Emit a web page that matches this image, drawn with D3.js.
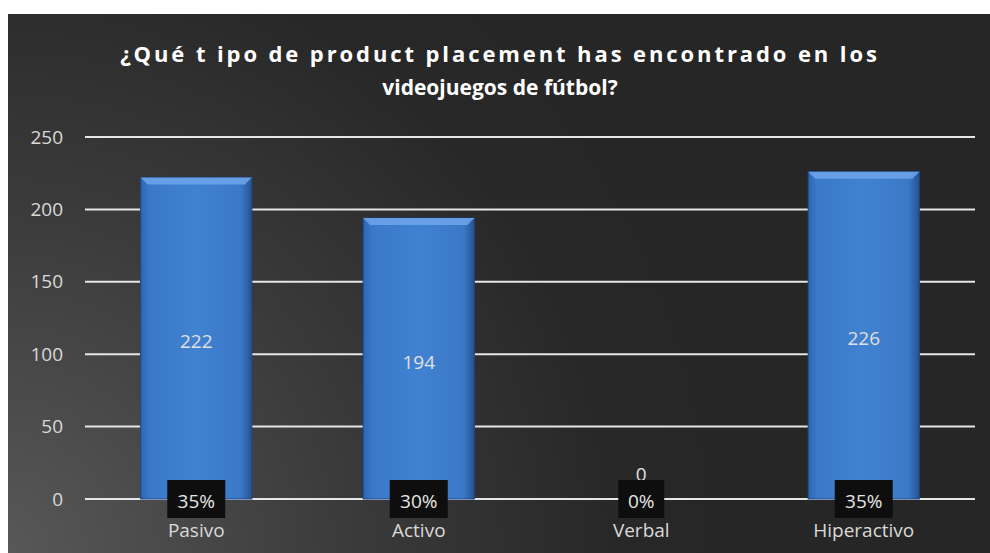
<!DOCTYPE html>
<html>
<head>
<meta charset="utf-8">
<script src="https://cdn.jsdelivr.net/npm/d3@7"></script>
<style>
  html, body { margin: 0; padding: 0; background: #ffffff; }
  svg { display: block; }
</style>
</head>
<body>
<svg id="chart" width="990" height="553"></svg>
<script>
// Survey data: type of product placement seen in football video games
const categories = ["Pasivo", "Activo", "Verbal", "Hiperactivo"];
const counts = [222, 194, 0, 226];
const shares = ["35%", "30%", "0%", "35%"];
const yTicks = [0, 50, 100, 150, 200, 250];
const titleLines = ["¿Qué t ipo de product placement has encontrado en  los", "videojuegos de fútbol?"];

const svg = d3.select("#chart");
const W = 990, H = 553;
const panel = { x: 8, y: 14 };
const plot = { left: 85, right: 975, top: 137, bottom: 499 };

const defs = svg.append("defs");

// Dark background, lighter toward the lower left
const bg = defs.append("radialGradient").attr("id", "bgGrad")
  .attr("gradientUnits", "userSpaceOnUse")
  .attr("cx", 0).attr("cy", 553).attr("r", 760);
bg.append("stop").attr("offset", "0%").attr("stop-color", "#585858");
bg.append("stop").attr("offset", "45%").attr("stop-color", "#3b3b3b");
bg.append("stop").attr("offset", "80%").attr("stop-color", "#282828");
bg.append("stop").attr("offset", "100%").attr("stop-color", "#262626");

// Bar body gradient (left to right)
const barGrad = defs.append("linearGradient").attr("id", "barGrad")
  .attr("x1", "0%").attr("x2", "100%").attr("y1", "0%").attr("y2", "0%");
[["0%", "#2c66b6"], ["8%", "#3a79c8"], ["50%", "#4081d1"], ["90%", "#3b79c8"], ["100%", "#24528f"]]
  .forEach(([o, c]) => barGrad.append("stop").attr("offset", o).attr("stop-color", c));

svg.append("rect")
  .attr("x", panel.x).attr("y", panel.y)
  .attr("width", W - panel.x).attr("height", H - panel.y)
  .attr("fill", "url(#bgGrad)");

const x = d3.scaleBand().domain(categories)
  .range([plot.left, plot.right]).paddingInner(0.5).paddingOuter(0.25);
const y = d3.scaleLinear().domain([0, 250]).range([plot.bottom, plot.top]);

const labelFont = "'Open Sans', 'Noto Sans', sans-serif";
const labelSize = "19px";

// Horizontal gridlines
svg.append("g").selectAll("line").data(yTicks).join("line")
  .attr("x1", plot.left).attr("x2", plot.right)
  .attr("y1", d => y(d)).attr("y2", d => y(d))
  .attr("stroke", "#e6e6e6").attr("stroke-width", 2);

// Y axis labels
const yAxis = d3.axisLeft(y).tickValues(yTicks).tickSize(0).tickPadding(0);
const gy = svg.append("g").attr("transform", `translate(${plot.left - 22},0)`).call(yAxis);
gy.select(".domain").remove();
gy.selectAll("text")
  .attr("fill", "#d9d9d9").style("font-family", labelFont).style("font-size", labelSize);

// Title
svg.append("g").selectAll("text").data(titleLines).join("text")
  .attr("x", 500).attr("y", (d, i) => 62 + i * 33)
  .attr("text-anchor", "middle")
  .attr("fill", "#ffffff")
  .style("font-family", "'Open Sans', 'Liberation Sans', sans-serif")
  .style("font-weight", "bold")
  .style("font-size", (d, i) => i === 0 ? "22px" : "21px")
  .style("letter-spacing", (d, i) => i === 0 ? "2.9px" : "0px")
  .text(d => d);

// Bars
const data = categories.map((c, i) => ({ cat: c, value: counts[i], share: shares[i] }));
const bars = svg.append("g").selectAll("g").data(data.filter(d => d.value > 0)).join("g");
bars.append("rect")
  .attr("x", d => x(d.cat)).attr("y", d => y(d.value))
  .attr("width", x.bandwidth()).attr("height", d => y(0) - y(d.value))
  .attr("fill", "url(#barGrad)")
  .attr("stroke", "#1d4582").attr("stroke-width", 1);
// Bevelled top edge
bars.append("path")
  .attr("d", d => {
    const x0 = x(d.cat), x1 = x0 + x.bandwidth(), t = y(d.value), b = 7;
    return `M${x0},${t} L${x1},${t} L${x1 - b},${t + b} L${x0 + b},${t + b} Z`;
  })
  .attr("fill", "#6fa6ea").attr("opacity", 0.85);

// Value labels centred in bars (zero value sits above the baseline)
svg.append("g").selectAll("text").data(data).join("text")
  .attr("x", d => x(d.cat) + x.bandwidth() / 2)
  .attr("y", d => d.value > 0 ? (y(d.value) + y(0)) / 2 + 10 : y(0) - 18)
  .attr("text-anchor", "middle")
  .attr("fill", "#e0e0e0").style("font-family", labelFont).style("font-size", labelSize)
  .text(d => d.value);

// Percentage labels in dark boxes on the baseline
const pct = svg.append("g").selectAll("g").data(data).join("g")
  .attr("transform", d => `translate(${x(d.cat) + x.bandwidth() / 2},${y(0)})`);
pct.append("rect")
  .attr("x", d => d.share.length > 2 ? -29 : -23).attr("y", -19)
  .attr("width", d => d.share.length > 2 ? 58 : 46).attr("height", 38)
  .attr("fill", "#0e0e0e");
pct.append("text")
  .attr("y", 9).attr("text-anchor", "middle")
  .attr("fill", "#e6e6e6").style("font-family", labelFont).style("font-size", labelSize)
  .text(d => d.share);

// Category labels
const xAxis = d3.axisBottom(x).tickSize(0).tickPadding(0);
const gx = svg.append("g").attr("transform", `translate(0,${y(0) + 24})`).call(xAxis);
gx.select(".domain").remove();
gx.selectAll("text")
  .attr("fill", "#d9d9d9").style("font-family", labelFont).style("font-size", labelSize);
</script>
</body>
</html>
